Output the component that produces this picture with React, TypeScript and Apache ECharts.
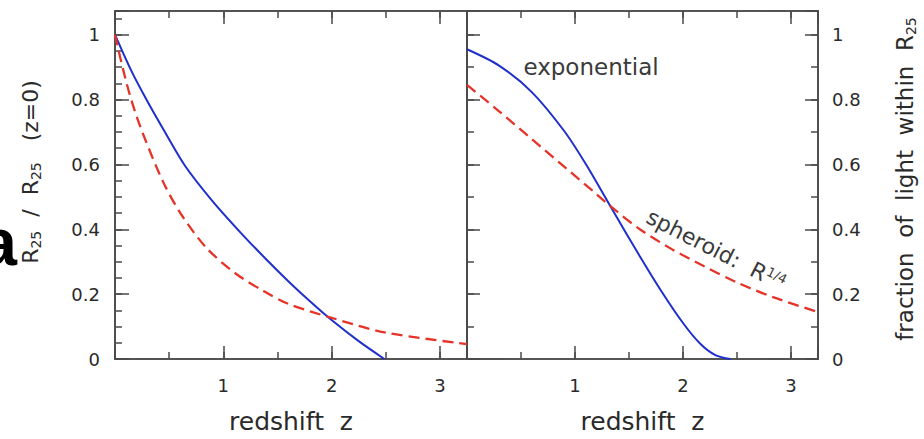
import React, { useEffect, useRef } from 'react';
import * as echarts from 'echarts';

// ---- data ----
const Z_MAX = 3.25;
const Y_MAX = 1.073;

const xTickLabels = ['1', '2', '3'];
const yTickLabels = ['0', '0.2', '0.4', '0.6', '0.8', '1'];

// left panel: R25 / R25(z=0)
const leftExpZ = [0, 0.15, 0.29, 0.45, 0.646, 0.9, 1.17, 1.4, 1.6, 1.8, 2.0, 2.25, 2.487];
const leftExpV = [1.0, 0.889, 0.8, 0.706, 0.596, 0.487, 0.386, 0.306, 0.24, 0.178, 0.12, 0.055, 0];
const leftSphZ = [0, 0.077, 0.154, 0.26, 0.446, 0.615, 0.846, 1.12, 1.37, 1.6, 2.0, 2.49, 3.25];
const leftSphV = [1.0, 0.89, 0.795, 0.693, 0.545, 0.444, 0.342, 0.262, 0.21, 0.17, 0.127, 0.082, 0.046];

// right panel: fraction of light within R25
const rightExpZ = [0, 0.3, 0.6, 0.9, 1.1, 1.34, 1.6, 1.8, 2.0, 2.16, 2.3, 2.44];
const rightExpV = [0.955, 0.904, 0.823, 0.703, 0.601, 0.464, 0.317, 0.209, 0.111, 0.047, 0.012, 0];
const rightSphZ = [0, 0.3, 0.6, 0.9, 1.2, 1.34, 1.6, 1.9, 2.2, 2.5, 2.84, 3.25];
const rightSphV = [0.845, 0.763, 0.678, 0.593, 0.508, 0.468, 0.4, 0.338, 0.285, 0.236, 0.19, 0.145];

// ---- styling ----
const AXIS = '#4a4a4a';
const BLUE = '#1f2fcc';
const RED = '#e63328';
const FONT = 'DejaVu Sans';
const TXT = '#2a2a2a';

const pairs = (zs: number[], vs: number[]) => zs.map((z, i) => [z, vs[i]]);
const fmt = (list: string[]) => (v: number) => {
  const s = String(+Number(v).toFixed(2));
  return list.includes(s) ? s : '';
};

function xAx(grid: number, position: string, interval: number, tickLen: number, labels: boolean) {
  const o: any = {
    type: 'value', gridIndex: grid, position, min: 0, max: Z_MAX, interval,
    axisLine: { show: true, onZero: false, lineStyle: { color: AXIS, width: 1.6 } },
    axisTick: { show: true, inside: true, length: tickLen, lineStyle: { color: AXIS, width: 1.5 } },
    axisLabel: labels
      ? { show: true, inside: false, margin: 17, fontFamily: FONT, fontSize: 18, color: TXT, formatter: fmt(xTickLabels), showMinLabel: true, showMaxLabel: true, hideOverlap: false }
      : { show: false },
    splitLine: { show: false },
  };
  if (labels) {
    o.name = 'redshift  z';
    o.nameLocation = 'middle';
    o.nameGap = 50;
    o.nameTextStyle = { fontFamily: FONT, fontSize: 25, color: TXT };
  }
  return o;
}

function yAx(grid: number, position: string, interval: number, tickLen: number, labels: boolean, margin = 14) {
  return {
    type: 'value', gridIndex: grid, position, min: 0, max: Y_MAX, interval,
    axisLine: { show: true, onZero: false, lineStyle: { color: AXIS, width: 1.6 } },
    axisTick: { show: tickLen > 0, inside: true, length: tickLen, lineStyle: { color: AXIS, width: 1.5 } },
    axisLabel: labels
      ? { show: true, inside: false, margin, fontFamily: FONT, fontSize: 18, color: TXT, formatter: fmt(yTickLabels), showMinLabel: true, showMaxLabel: true, hideOverlap: false }
      : { show: false },
    splitLine: { show: false },
  };
}

const line = (name: string, x: number, y: number, data: number[][], color: string, dashed: boolean) => ({
  name, type: 'line', xAxisIndex: x, yAxisIndex: y, data,
  smooth: 0.3, showSymbol: false, symbol: 'none',
  lineStyle: { color, width: dashed ? 2.3 : 2, type: dashed ? [11, 6] : 'solid' },
  z: 3,
});

export default function App() {
  const ref = useRef<HTMLDivElement>(null);
  useEffect(() => {
    if (!ref.current) return;
    const chart = echarts.init(ref.current, undefined, { renderer: 'svg' });
    chart.setOption({
      animation: false,
      backgroundColor: '#ffffff',
      grid: [
        { left: 115, top: 11, width: 352, height: 351 },
        { left: 467, top: 11, width: 351, height: 351 },
      ],
      xAxis: [
        xAx(0, 'bottom', 1, 13, true),
        xAx(0, 'bottom', 0.5, 7, false),
        xAx(0, 'top', 1, 13, false),
        xAx(0, 'top', 0.5, 7, false),
        xAx(1, 'bottom', 1, 13, true),
        xAx(1, 'bottom', 0.5, 7, false),
        xAx(1, 'top', 1, 13, false),
        xAx(1, 'top', 0.5, 7, false),
      ],
      yAxis: [
        yAx(0, 'left', 0.2, 14, true, 15),
        yAx(0, 'left', 0.05, 7, false),
        yAx(0, 'right', 0.2, 0, false),
        yAx(1, 'left', 0.2, 13, false),
        yAx(1, 'left', 0.1, 7, false),
        yAx(1, 'right', 0.2, 13, true, 14),
        yAx(1, 'right', 0.1, 7, false),
      ],
      series: [
        line('exponential', 0, 0, pairs(leftExpZ, leftExpV), BLUE, false),
        line('spheroid', 0, 0, pairs(leftSphZ, leftSphV), RED, true),
        line('exponential', 4, 5, pairs(rightExpZ, rightExpV), BLUE, false),
        line('spheroid', 4, 5, pairs(rightSphZ, rightSphV), RED, true),
      ],
      graphic: [
        {
          type: 'text', x: 17, y: 242, z: 10,
          style: { text: 'a', fontFamily: 'Liberation Sans', fontWeight: 'bold', fontSize: 66, fill: '#000', align: 'right', verticalAlign: 'middle', textAlign: 'right', textVerticalAlign: 'middle' },
        },
        {
          type: 'text', x: 30, y: 172, rotation: Math.PI / 2, z: 10,
          style: {
            text: '{m|R}{s|25}{m|  /  R}{s|25}{m|   (z=0)}',
            rich: {
              m: { fontFamily: FONT, fontSize: 22, fill: TXT },
              s: { fontFamily: FONT, fontSize: 14, fill: TXT, padding: [12, 0, 0, 0] },
            },
            align: 'center', verticalAlign: 'middle', textAlign: 'center', textVerticalAlign: 'middle',
          },
        },
        {
          type: 'text', x: 905, y: 179, rotation: Math.PI / 2, z: 10,
          style: {
            text: '{m|fraction  of  light  within  R}{s|25}',
            rich: {
              m: { fontFamily: FONT, fontSize: 23, fill: TXT },
              s: { fontFamily: FONT, fontSize: 14, fill: TXT, padding: [12, 0, 0, 0] },
            },
            align: 'center', verticalAlign: 'middle', textAlign: 'center', textVerticalAlign: 'middle',
          },
        },
        {
          type: 'text', x: 591, y: 67, z: 10,
          style: { text: 'exponential', fontFamily: FONT, fontSize: 23, fill: '#3a3a3a', align: 'center', verticalAlign: 'middle', textAlign: 'center', textVerticalAlign: 'middle' },
        },
        {
          type: 'text', x: 716, y: 250, rotation: (-27 * Math.PI) / 180, z: 10,
          style: {
            text: '{m|spheroid:  R}{p|1/4}',
            rich: {
              m: { fontFamily: FONT, fontSize: 22, fill: '#3a3a3a' },
              p: { fontFamily: FONT, fontSize: 13, fill: '#3a3a3a', padding: [0, 0, 10, 0] },
            },
            align: 'center', verticalAlign: 'middle', textAlign: 'center', textVerticalAlign: 'middle',
          },
        },
      ],
    });
    return () => chart.dispose();
  }, []);
  return <div ref={ref} style={{ position: 'fixed', left: 0, top: 0, width: 924, height: 439, background: '#fff' }} />;
}
